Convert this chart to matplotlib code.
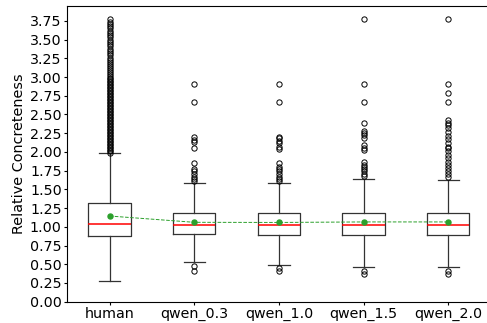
import matplotlib
matplotlib.use("Agg")
import matplotlib.pyplot as plt

labels = ["human", "qwen_0.3", "qwen_1.0", "qwen_1.5", "qwen_2.0"]
q1 = [0.873, 0.905, 0.895, 0.89, 0.89]
med = [1.032, 1.028, 1.026, 1.028, 1.028]
q3 = [1.312, 1.184, 1.18, 1.19, 1.19]
whislo = [0.28, 0.526, 0.486, 0.467, 0.467]
whishi = [1.98, 1.58, 1.58, 1.634, 1.625]
means = [1.144, 1.06, 1.058, 1.065, 1.065]

fliers_human = [1.99, 2.01, 2.03, 2.05, 2.07, 2.09, 2.11, 2.13, 2.15, 2.17, 2.19,
                2.21, 2.23, 2.25, 2.27, 2.29, 2.31, 2.33, 2.35, 2.37, 2.39, 2.41,
                2.43, 2.45, 2.47, 2.49, 2.51, 2.53, 2.55, 2.57, 2.59, 2.61, 2.63,
                2.65, 2.67, 2.69, 2.71, 2.73, 2.75, 2.77, 2.79, 2.81, 2.83, 2.85,
                2.87, 2.89, 2.91, 2.93, 2.95, 2.97, 2.99, 3.01, 3.04, 3.07, 3.10,
                3.12, 3.15, 3.18, 3.20, 3.23, 3.26, 3.29, 3.32, 3.35, 3.38, 3.41,
                3.44, 3.47, 3.50, 3.53, 3.56, 3.59, 3.62, 3.65, 3.68, 3.71, 3.74,
                3.77]
fliers_q03 = [2.90, 2.67, 2.195, 2.16, 2.13, 2.05, 1.85, 1.77, 1.74, 1.70, 1.67,
              1.64, 1.615, 0.48, 0.405]
fliers_q10 = [2.90, 2.67, 2.195, 2.18, 2.15, 2.12, 2.06, 2.04, 1.85, 1.80, 1.77,
              1.74, 1.70, 1.67, 1.64, 1.615, 0.446, 0.41]
fliers_q15 = [3.77, 2.906, 2.67, 2.38, 2.28, 2.25, 2.22, 2.18, 2.09, 2.05, 2.02,
              1.86, 1.83, 1.80, 1.77, 1.74, 1.71, 1.68, 0.414, 0.366]
fliers_q20 = [3.77, 2.906, 2.79, 2.67, 2.426, 2.39, 2.36, 2.32, 2.27, 2.21, 2.17,
              2.12, 2.07, 2.05, 2.01, 1.96, 1.92, 1.86, 1.83, 1.79, 1.74, 1.70,
              1.66, 0.414, 0.366]
fliers = [fliers_human, fliers_q03, fliers_q10, fliers_q15, fliers_q20]

stats = []
for i in range(len(labels)):
    stats.append(dict(label=labels[i], q1=q1[i], med=med[i], q3=q3[i],
                      whislo=whislo[i], whishi=whishi[i], mean=means[i],
                      fliers=fliers[i]))

fig = plt.figure(figsize=(4.87, 3.23), dpi=100)
ax = fig.add_axes([67.3 / 487, 1 - 301.7 / 323, (490.6 - 67.3) / 487, (301.7 - 6) / 323])
ax.bxp(stats, showmeans=True, meanline=False,
       medianprops=dict(color="red", linewidth=1.1),
       meanprops=dict(marker="o", markerfacecolor="#2ca02c", markeredgecolor="#2ca02c",
                      markersize=3.6),
       flierprops=dict(marker="o", markerfacecolor="none", markeredgecolor="black",
                       markersize=3.8, markeredgewidth=0.7),
       boxprops=dict(color="#333333", linewidth=0.9),
       whiskerprops=dict(color="#333333", linewidth=0.9),
       capprops=dict(color="#333333", linewidth=0.9))
pos = list(range(1, len(labels) + 1))
ax.plot(pos, means, linestyle="--", color="#2ca02c", linewidth=0.7)
ax.set_xlim(0.5, 5.5)
ax.set_ylim(0, 3.948)
ax.set_yticks([i * 0.25 for i in range(16)])
ax.tick_params(labelsize=10.3, length=2, pad=2)
ax.set_ylabel("Relative Concreteness", fontsize=10.4, labelpad=3)
for s in ax.spines.values():
    s.set_linewidth(0.8)
fig.savefig("out.png", dpi=100)
